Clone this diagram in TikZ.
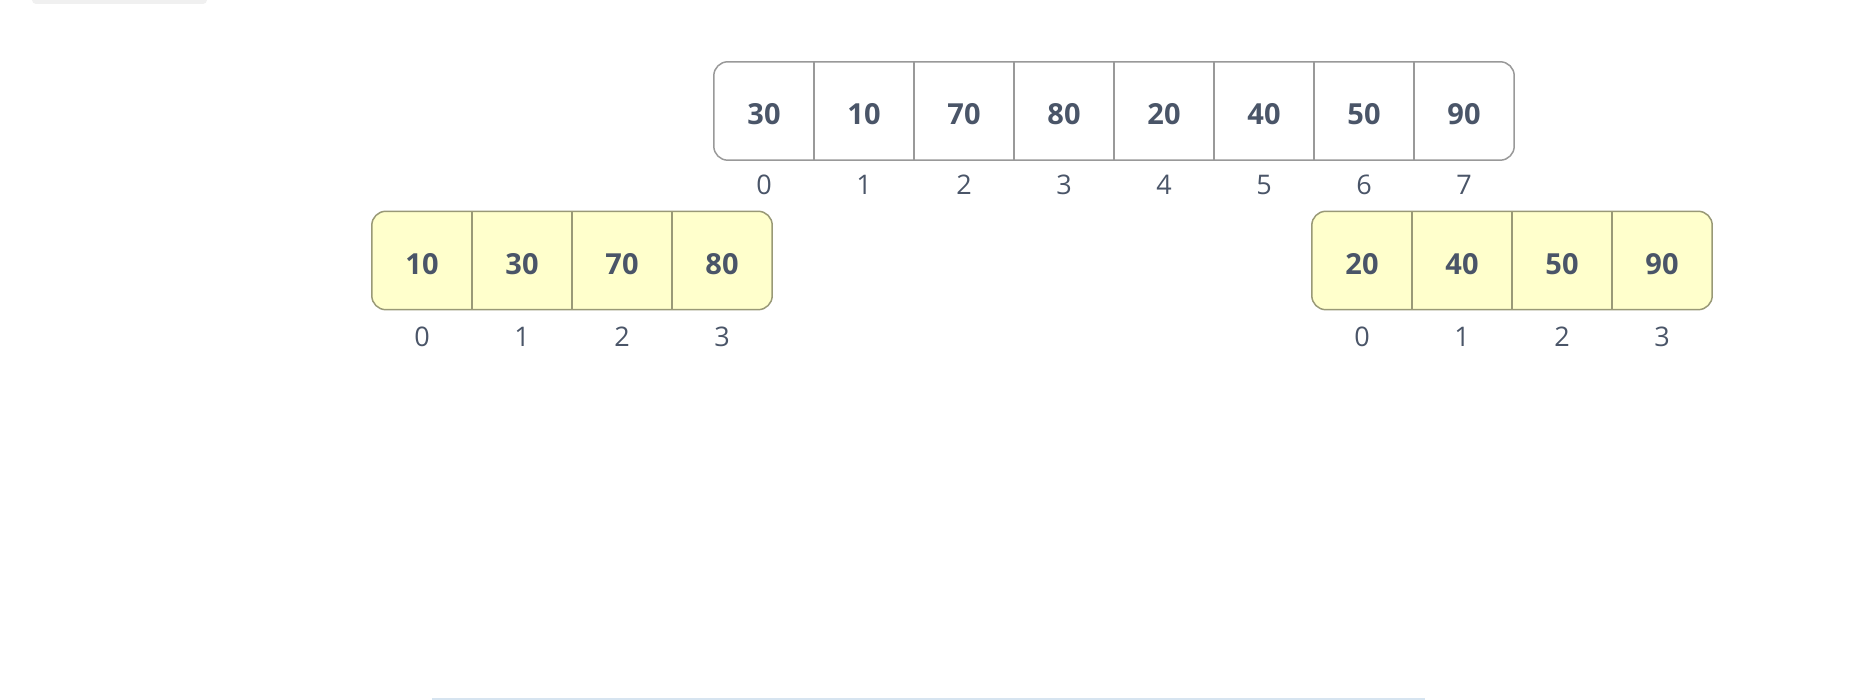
\documentclass[tikz,border=0pt]{standalone}
\usepackage{fontspec}
\setmainfont{Open Sans}
\usetikzlibrary{positioning,backgrounds}
\definecolor{inkgray}{HTML}{4A5568}
\definecolor{framegray}{HTML}{999999}
\definecolor{halfolive}{HTML}{999977}
\definecolor{halffill}{HTML}{FFFFCC}
\definecolor{tabgray}{HTML}{F0F0F0}
\definecolor{edgeblue}{HTML}{D6E4F0}
\begin{document}
\begin{tikzpicture}[x=1pt,y=1pt,
  cell/.style={minimum width=100pt,minimum height=98pt,inner sep=0pt,
    text height=28pt,text depth=0pt,text=inkgray,
    font=\bfseries\fontsize{29}{36}\selectfont},
  index/.style={inner sep=0pt,text=inkgray,font=\fontsize{27}{32}\selectfont},
  frame/.style={draw=framegray,line width=1.5pt,rounded corners=14pt,fill=white},
  half/.style={frame,draw=halfolive,fill=halffill},
  divider/.style={draw=framegray,line width=1.5pt},
  halfdivider/.style={divider,draw=halfolive}
]
  \useasboundingbox (0,0) rectangle (1866,700);
  \fill[tabgray,rounded corners=4pt] (32,696) rectangle (207,710);
  \fill[edgeblue] (432,0) rectangle (1425,1.5);
  % whole array
  \foreach \v [count=\i from 0] in {30,10,70,80,20,40,50,90}
    \node[cell] (t\i) at (764+100*\i,589) {\v};
  \foreach \i in {0,...,7}
    \node[index,below=15pt of t\i] (ti\i) {\i};
  % left and right halves
  \foreach \v [count=\i from 0] in {10,30,70,80}
    \node[cell] (l\i) at (422+100*\i,439.5) {\v};
  \foreach \v [count=\i from 0] in {20,40,50,90}
    \node[cell] (r\i) at (1362+100*\i,439.5) {\v};
  \foreach \i in {0,...,3} {
    \node[index,below=17pt of l\i] (li\i) {\i};
    \node[index,below=17pt of r\i] (ri\i) {\i};
  }
  \begin{scope}[on background layer]
    \draw[frame] (t0.north west) rectangle (t7.south east);
    \draw[half] (l0.north west) rectangle (l3.south east);
    \draw[half] (r0.north west) rectangle (r3.south east);
    \foreach \i in {0,...,6}
      \draw[divider] (t\i.north east) -- (t\i.south east);
    \foreach \i in {0,...,2} {
      \draw[halfdivider] (l\i.north east) -- (l\i.south east);
      \draw[halfdivider] (r\i.north east) -- (r\i.south east);
    }
  \end{scope}
\end{tikzpicture}
\end{document}
